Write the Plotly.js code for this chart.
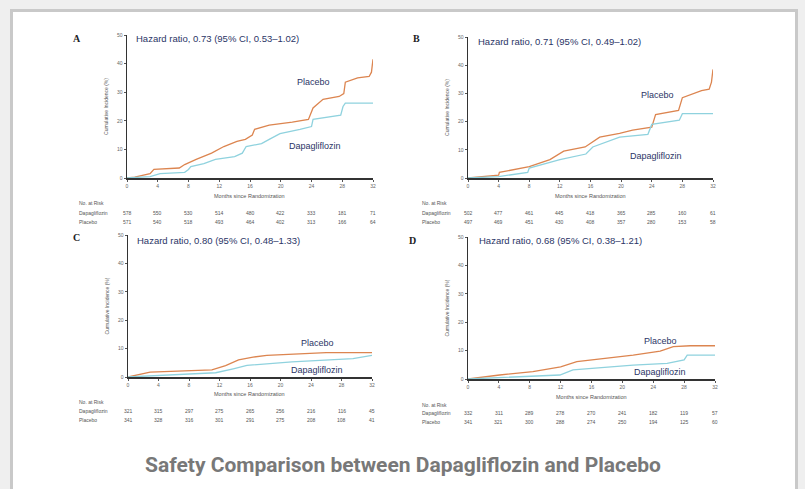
<!DOCTYPE html>
<html><head><meta charset="utf-8">
<script src="https://cdn.plot.ly/plotly-3.0.1.min.js"></script>
<style>html,body{margin:0;padding:0;background:#efefef;overflow:hidden}#chart{width:805px;height:489px}</style>
</head><body><div id="chart"></div>
<script>
// ---- data ----
const months = [0,4,8,12,16,20,24,28,32];
const yTicks = [0,10,20,30,40,50];

// Panel A
const aPlaT = [0,1,3,3.5,6.8,7.5,9,11,12.6,14.3,15.4,16.3,16.6,18.5,21.5,23.6,24.2,25.5,27.6,28.2,28.4,30,31.5,31.8,32];
const aPlaY = [0,0.3,1.5,3,3.5,4.7,6.5,8.7,11,12.8,13.5,15,17,18.5,19.5,20.5,24.5,27.5,28.5,29.5,33.5,35,35.5,37,41.5];
const aDapT = [0,3,4.3,7.5,8,8.3,10,11.5,14,15,15.5,17.5,18.5,19.9,22.5,24,24.2,25.5,27.8,28.1,28.4,32];
const aDapY = [0,0.5,1.5,2,3,4,5,6.5,7.5,8.7,11,12,13.5,15.5,17,18,20.5,21,22,25,26.2,26.2];
const aRiskDapa = [578,550,530,514,480,422,333,181,71];
const aRiskPla  = [571,540,518,493,464,402,313,166,64];

// Panel B
const bPlaT = [0,1,4,4.1,8,10.7,12.5,15.3,17.2,19.8,21.5,24,24.5,27.5,28,30.5,31.5,31.8,32];
const bPlaY = [0,0.3,1,2,4,6.5,9.5,11,14.5,15.8,17,18,22.5,24,28.5,31,31.5,34,38.5];
const bDapT = [0,4,7.8,8,12,15.4,16.3,19.8,23.5,24,27.6,28,32];
const bDapY = [0,0.5,2,3.5,6.5,8.5,11,14.5,15.5,19,20.5,22.8,22.8];
const bRiskDapa = [502,477,461,445,418,365,285,160,61];
const bRiskPla  = [497,469,451,430,408,357,280,153,58];

// Panel C
const cPlaT = [0,2.9,11,12.8,14.5,16.4,18.2,24,26,32];
const cPlaY = [0,1.7,2.5,4,6,7,7.6,8.2,8.6,8.6];
const cDapT = [0,4.2,11.5,13.8,15.6,21.5,29.5,32];
const cDapY = [0,0.5,1.5,2.9,4.1,5.3,6.5,7.6];
const cRiskDapa = [321,315,297,275,265,256,216,116,45];
const cRiskPla  = [341,328,316,301,291,275,208,108,41];

// Panel D
const dPlaT = [0,4.1,8.4,12,14.1,18,21.4,24.9,26.6,28.8,32];
const dPlaY = [0,1.4,2.6,4.3,6.1,7.3,8.4,9.8,11.4,11.7,11.7];
const dDapT = [0,4.1,11.9,13.6,18,21.4,25.8,28,28.4,32];
const dDapY = [0,0.5,1.4,3.2,4.3,4.9,5.5,6.7,8.4,8.4];
const dRiskDapa = [332,311,289,278,270,241,182,119,57];
const dRiskPla  = [341,321,300,288,274,250,194,125,60];

const hrTexts = ['Hazard ratio, 0.73 (95% CI, 0.53\u20131.02)','Hazard ratio, 0.71 (95% CI, 0.49\u20131.02)',
                 'Hazard ratio, 0.80 (95% CI, 0.48\u20131.33)','Hazard ratio, 0.68 (95% CI, 0.38\u20131.21)'];
const letters = ['A','B','C','D'];
const xTitle = 'Months since Randomization';
const yTitle = 'Cumulative Incidence (%)';
const caption = 'Safety Comparison between Dapagliflozin and Placebo';

// ---- layout helpers ----
const W = 805, H = 489;
const px = x => x / W, py = y => 1 - y / H;
const placeboColor = '#dc8550', dapaColor = '#8fd2de', navy = '#2b3566';

const panels = [
  {pla:[aPlaT,aPlaY], dap:[aDapT,aDapY], rd:aRiskDapa, rp:aRiskPla, xd:[127,373], yd:[178,35],
   letter:[77,38], hr:[134,39], titleY:196, noY:203, r1:213, r2:222, lx:77,
   plaLbl:[24.2,33.6], dapLbl:[24.4,11.2]},
  {pla:[bPlaT,bPlaY], dap:[bDapT,bDapY], rd:bRiskDapa, rp:bRiskPla, xd:[468,713], yd:[178,37],
   letter:[416,38], hr:[476,42], titleY:196, noY:203, r1:213, r2:222, lx:420,
   plaLbl:[24.7,29.4], dapLbl:[24.5,7.8]},
  {pla:[cPlaT,cPlaY], dap:[cDapT,cDapY], rd:cRiskDapa, rp:cRiskPla, xd:[128,372], yd:[377,235],
   letter:[76,238], hr:[135,240], titleY:394, noY:402, r1:411, r2:420, lx:77,
   plaLbl:[24.8,12], dapLbl:[24.8,2.6]},
  {pla:[dPlaT,dPlaY], dap:[dDapT,dDapY], rd:dRiskDapa, rp:dRiskPla, xd:[468,715], yd:[379,237],
   letter:[412,240], hr:[477,240], titleY:397, noY:405, r1:413, r2:422, lx:420,
   plaLbl:[24.9,13.4], dapLbl:[24.9,2.6]}
];

const traces = [], annotations = [];
const layout = {
  width: W, height: H, margin:{l:0,r:0,t:0,b:0},
  paper_bgcolor:'#efefef', plot_bgcolor:'rgba(0,0,0,0)', showlegend:false,
  font:{family:'Liberation Sans, Arial, sans-serif', color:'#444'},
  shapes:[{type:'rect', xref:'paper', yref:'paper', x0:px(11.5), x1:px(796.5), y0:-0.2, y1:py(10.5),
           fillcolor:'#ffffff', line:{color:'#c9c9c9', width:3}, layer:'below'}],
  annotations
};

panels.forEach((p, i) => {
  const n = i === 0 ? '' : String(i + 1);
  const xa = 'x' + n, ya = 'y' + n;
  traces.push({x:p.pla[0], y:p.pla[1], xaxis:xa, yaxis:ya, mode:'lines', line:{shape:'linear', color:placeboColor, width:1.3}, hoverinfo:'skip'});
  traces.push({x:p.dap[0], y:p.dap[1], xaxis:xa, yaxis:ya, mode:'lines', line:{shape:'linear', color:dapaColor, width:1.3}, hoverinfo:'skip'});
  layout['xaxis' + n] = {domain:[px(p.xd[0]), px(p.xd[1])], anchor:ya, range:[0,32], tickvals:months,
    showgrid:false, zeroline:false, showline:true, linecolor:'#333', linewidth:1.5,
    ticks:'outside', ticklen:2, tickcolor:'#555', tickfont:{size:5, color:'#666'}, fixedrange:true};
  layout['yaxis' + n] = {domain:[py(p.yd[0]), py(p.yd[1])], anchor:xa, range:[0,50], tickvals:yTicks,
    showgrid:false, zeroline:false, showline:true, linecolor:'#333', linewidth:1.5,
    ticks:'outside', ticklen:2, tickcolor:'#555', tickfont:{size:5, color:'#666'}, fixedrange:true,
    title:{text:yTitle, font:{size:5, color:'#555'}, standoff:8}};
  annotations.push({xref:'paper', yref:'paper', x:px(p.letter[0]), y:py(p.letter[1]), text:'<b>'+letters[i]+'</b>',
    showarrow:false, xanchor:'center', yanchor:'middle', font:{family:'Liberation Serif, serif', size:10, color:'#222'}});
  annotations.push({xref:'paper', yref:'paper', x:px(p.hr[0]), y:py(p.hr[1]), text:hrTexts[i],
    showarrow:false, xanchor:'left', yanchor:'middle', font:{size:9.5, color:navy}});
  annotations.push({xref:xa, yref:ya, x:p.plaLbl[0], y:p.plaLbl[1], text:'Placebo', showarrow:false,
    xanchor:'center', yanchor:'middle', font:{size:9, color:navy}});
  annotations.push({xref:xa, yref:ya, x:p.dapLbl[0], y:p.dapLbl[1], text:'Dapagliflozin', showarrow:false,
    xanchor:'center', yanchor:'middle', font:{size:9, color:navy}});
  annotations.push({xref:'paper', yref:'paper', x:px((p.xd[0]+p.xd[1])/2), y:py(p.titleY), text:xTitle,
    showarrow:false, xanchor:'center', yanchor:'middle', font:{size:5.5, color:'#555'}});
  annotations.push({xref:'paper', yref:'paper', x:px(p.lx), y:py(p.noY), text:'No. at Risk', showarrow:false,
    xanchor:'left', yanchor:'middle', font:{size:5, color:'#555'}});
  annotations.push({xref:'paper', yref:'paper', x:px(p.lx), y:py(p.r1), text:'Dapagliflozin', showarrow:false,
    xanchor:'left', yanchor:'middle', font:{size:5, color:'#555'}});
  annotations.push({xref:'paper', yref:'paper', x:px(p.lx), y:py(p.r2), text:'Placebo', showarrow:false,
    xanchor:'left', yanchor:'middle', font:{size:5, color:'#555'}});
  months.forEach((m, k) => {
    annotations.push({xref:xa, yref:'paper', x:m, y:py(p.r1), text:String(p.rd[k]), showarrow:false,
      xanchor:'center', yanchor:'middle', font:{size:5, color:'#555'}});
    annotations.push({xref:xa, yref:'paper', x:m, y:py(p.r2), text:String(p.rp[k]), showarrow:false,
      xanchor:'center', yanchor:'middle', font:{size:5, color:'#555'}});
  });
});

annotations.push({xref:'paper', yref:'paper', x:px(403), y:py(465), text:'<b>'+caption+'</b>', showarrow:false,
  xanchor:'center', yanchor:'middle', font:{family:'Liberation Sans Narrow, Roboto, sans-serif', size:21, color:'#787878'}});

Plotly.newPlot('chart', traces, layout, {staticPlot:true, displayModeBar:false});
</script></body></html>
